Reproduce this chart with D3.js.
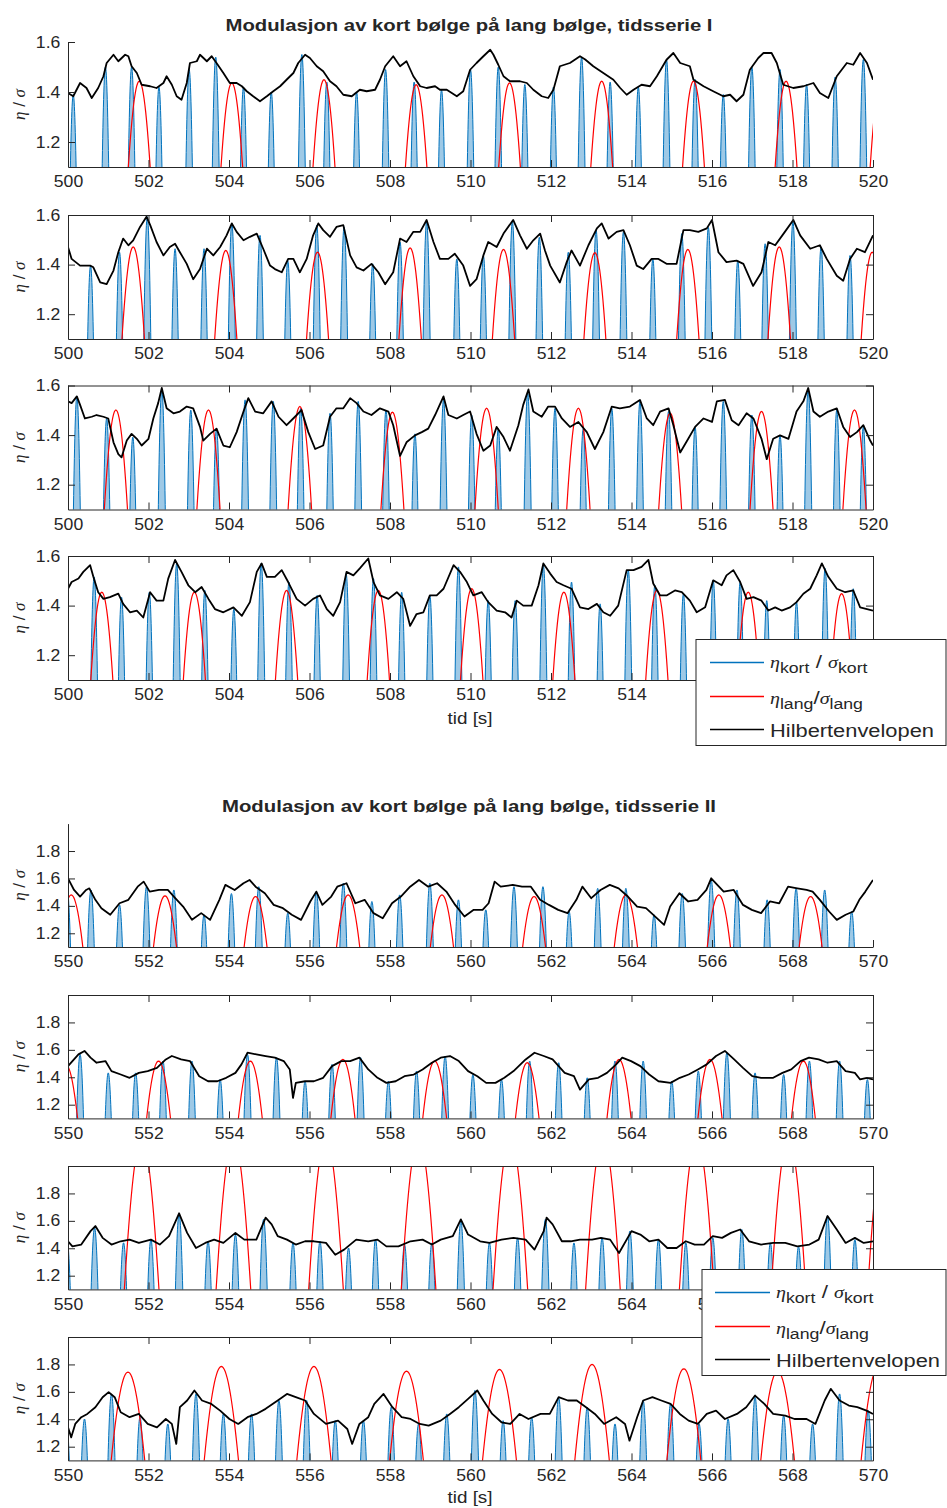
<!DOCTYPE html>
<html>
<head>
<meta charset="utf-8">
<script src="https://cdnjs.cloudflare.com/ajax/libs/d3/7.8.5/d3.min.js"></script>
<style>
  body { margin: 0; background: #fff; }
  svg text { font-family: "Liberation Sans", Arial, sans-serif; fill: #262626; }
</style>
</head>
<body>
<div id="chart"></div>
<script>
// axis settings
var xDomain1 = [500, 520];
var xDomain2 = [550, 570];
var yDomain1 = [1.1, 1.6];
var yDomain2 = [1.1, 2.0];
var xTicks1 = [500, 502, 504, 506, 508, 510, 512, 514, 516, 518, 520];
var xTicks2 = [550, 552, 554, 556, 558, 560, 562, 564, 566, 568, 570];
var yTicks1 = [1.2, 1.4, 1.6];
var yTicks2 = [1.2, 1.4, 1.6, 1.8];

var titles = ["Modulasjon av kort bølge på lang bølge, tidsserie I",
              "Modulasjon av kort bølge på lang bølge, tidsserie II"];
var xLabel = "tid [s]";
var legendNames = ["kort", "lang", "Hilbertenvelopen"];

// short wave crests [time, eta/sigma]
var kort1 = [[500.13,1.39],[500.93,1.50],[501.58,1.50],[502.26,1.42],[503.01,1.49],[503.67,1.54],[504.36,1.42],[505.05,1.40],[505.81,1.55],[506.43,1.44],[507.17,1.40],[507.89,1.49],[508.60,1.44],[509.28,1.41],[510.00,1.49],[510.69,1.50],[511.35,1.43],[512.06,1.42],[512.76,1.54],[513.47,1.44],[514.17,1.42],[514.87,1.53],[515.58,1.45],[516.28,1.39],[516.99,1.50],[517.69,1.49],[518.35,1.43],[519.06,1.46],[519.76,1.53]];
var kort2 = [[500.56,1.396],[501.28,1.45],[501.97,1.593],[502.66,1.464],[503.38,1.464],[504.07,1.566],[504.77,1.518],[505.46,1.416],[506.18,1.559],[506.86,1.552],[507.57,1.403],[508.25,1.491],[508.91,1.573],[509.66,1.423],[510.32,1.437],[511.04,1.573],[511.71,1.51],[512.43,1.45],[513.12,1.54],[513.80,1.532],[514.53,1.423],[515.25,1.525],[515.91,1.55],[516.64,1.416],[517.32,1.484],[518.01,1.573],[518.71,1.471],[519.43,1.437]];
var kort3 = [[500.22,1.556],[500.96,1.467],[501.61,1.392],[502.33,1.584],[503.05,1.501],[503.69,1.426],[504.40,1.542],[505.10,1.536],[505.78,1.508],[506.51,1.488],[507.21,1.536],[507.90,1.501],[508.62,1.405],[509.33,1.542],[510.03,1.481],[510.69,1.426],[511.42,1.57],[512.10,1.508],[512.80,1.426],[513.51,1.508],[514.21,1.536],[514.92,1.495],[515.58,1.433],[516.28,1.536],[516.99,1.481],[517.69,1.399],[518.39,1.584],[519.10,1.501],[519.76,1.433]];
var kort4 = [[499.93,1.45],[500.65,1.516],[501.33,1.434],[502.02,1.454],[502.70,1.57],[503.40,1.461],[504.12,1.386],[504.80,1.57],[505.49,1.495],[506.19,1.441],[506.91,1.529],[507.59,1.509],[508.29,1.454],[508.99,1.441],[509.70,1.556],[510.44,1.420],[511.11,1.42],[511.81,1.563],[512.51,1.495],[513.22,1.407],[513.92,1.543],[514.58,1.482],[515.29,1.448],[516.03,1.502],[516.70,1.495],[517.36,1.420],[518.10,1.414],[518.81,1.55],[519.51,1.468]];
var kort5 = [[549.98,1.52],[550.57,1.516],[551.28,1.407],[551.95,1.54],[552.63,1.516],[553.38,1.335],[554.06,1.49],[554.74,1.54],[555.46,1.347],[556.17,1.504],[556.84,1.565],[557.55,1.432],[558.24,1.48],[558.99,1.565],[559.70,1.444],[560.38,1.371],[561.08,1.54],[561.80,1.54],[562.45,1.359],[563.16,1.528],[563.86,1.528],[564.56,1.335],[565.26,1.49],[565.98,1.589],[566.62,1.516],[567.37,1.444],[568.09,1.528],[568.80,1.516],[569.47,1.359]];
var kort6 = [[550.30,1.567],[551.00,1.432],[551.68,1.432],[552.36,1.518],[553.08,1.518],[553.78,1.384],[554.46,1.567],[555.18,1.543],[555.89,1.371],[556.56,1.494],[557.27,1.543],[557.96,1.371],[558.66,1.445],[559.37,1.555],[560.06,1.420],[560.77,1.384],[561.47,1.518],[562.19,1.506],[562.90,1.396],[563.59,1.518],[564.29,1.518],[565.00,1.371],[565.66,1.445],[566.37,1.579],[567.07,1.432],[567.78,1.420],[568.42,1.518],[569.17,1.518],[569.86,1.384]];
var kort7 = [[549.98,1.45],[550.66,1.55],[551.38,1.44],[552.06,1.463],[552.76,1.648],[553.48,1.451],[554.16,1.50],[554.86,1.611],[555.59,1.439],[556.26,1.451],[556.97,1.402],[557.64,1.463],[558.36,1.427],[559.04,1.439],[559.76,1.60],[560.47,1.439],[561.17,1.476],[561.86,1.611],[562.57,1.439],[563.27,1.476],[563.96,1.525],[564.67,1.463],[565.35,1.439],[566.02,1.476],[566.74,1.537],[567.45,1.439],[568.15,1.414],[568.87,1.635],[569.55,1.463]];
var kort8 = [[549.96,1.40],[550.41,1.402],[551.08,1.585],[551.79,1.415],[552.48,1.366],[553.18,1.585],[553.86,1.439],[554.56,1.439],[555.24,1.537],[555.93,1.537],[556.64,1.390],[557.34,1.39],[558.03,1.488],[558.71,1.366],[559.41,1.439],[560.11,1.61],[560.81,1.39],[561.52,1.415],[562.19,1.561],[562.90,1.488],[563.59,1.366],[564.29,1.537],[564.97,1.512],[565.68,1.366],[566.40,1.402],[567.07,1.561],[567.78,1.427],[568.50,1.366],[569.17,1.585],[569.88,1.463]];

// long wave crests [time, eta/sigma]
var lang1 = [[501.77,1.443],[504.07,1.436],[506.36,1.449],[508.65,1.429],[510.97,1.436],[513.26,1.443],[515.54,1.443],[517.84,1.443],[520.20,1.44]];
var lang2 = [[501.62,1.471],[503.92,1.457],[506.20,1.450],[508.50,1.467],[510.82,1.461],[513.09,1.448],[515.40,1.461],[517.67,1.471],[519.98,1.45]];
var lang3 = [[501.19,1.501],[503.49,1.501],[505.76,1.515],[508.06,1.492],[510.40,1.508],[512.68,1.508],[514.96,1.488],[517.23,1.495],[519.54,1.501]];
var lang4 = [[500.84,1.454],[503.14,1.454],[505.43,1.461],[507.71,1.461],[510.03,1.468],[512.32,1.454],[514.63,1.461],[516.90,1.454],[519.22,1.448]];
var lang5 = [[550.08,1.48],[552.41,1.473],[554.66,1.468],[556.96,1.48],[559.29,1.48],[561.58,1.468],[563.86,1.48],[566.17,1.48],[568.45,1.468]];
var lang6 = [[549.95,1.49],[552.25,1.518],[554.53,1.518],[556.83,1.530],[559.11,1.518],[561.41,1.506],[563.69,1.530],[565.95,1.530],[568.27,1.518]];
var lang7 = [[551.83,2.2],[554.11,2.2],[556.41,2.2],[558.71,2.2],[560.99,2.2],[563.29,2.2],[565.62,2.2],[567.90,2.2],[570.30,2.2]];
var lang8 = [[551.49,1.744],[553.81,1.785],[556.11,1.785],[558.41,1.751],[560.72,1.763],[563.02,1.80],[565.30,1.768],[567.63,1.75],[570.13,1.78]];

// Hilbert envelope [time, eta/sigma]
var env1 = [[500.00,1.396],[500.13,1.383],[500.30,1.436],[500.46,1.416],[500.59,1.376],[500.75,1.416],[500.88,1.463],[500.96,1.516],[501.13,1.549],[501.25,1.523],[501.42,1.549],[501.50,1.543],[501.58,1.503],[501.71,1.476],[501.83,1.429],[502.04,1.423],[502.20,1.416],[502.37,1.436],[502.45,1.463],[502.58,1.429],[502.70,1.383],[502.82,1.369],[502.95,1.436],[503.03,1.516],[503.20,1.523],[503.28,1.549],[503.45,1.523],[503.57,1.543],[503.69,1.516],[503.86,1.476],[504.02,1.436],[504.19,1.436],[504.32,1.423],[504.44,1.403],[504.60,1.383],[504.77,1.363],[504.94,1.383],[505.10,1.403],[505.27,1.423],[505.43,1.449],[505.60,1.476],[505.72,1.516],[505.89,1.549],[506.01,1.536],[506.18,1.503],[506.34,1.483],[506.51,1.443],[506.67,1.423],[506.84,1.389],[507.05,1.383],[507.25,1.409],[507.42,1.403],[507.63,1.409],[507.75,1.449],[507.88,1.503],[508.08,1.543],[508.25,1.503],[508.41,1.523],[508.58,1.463],[508.75,1.423],[508.91,1.416],[509.12,1.423],[509.24,1.409],[509.41,1.409],[509.66,1.383],[509.82,1.403],[509.99,1.489],[510.15,1.516],[510.32,1.543],[510.49,1.569],[510.57,1.549],[510.69,1.509],[510.82,1.463],[510.98,1.443],[511.23,1.443],[511.40,1.436],[511.56,1.409],[511.77,1.383],[511.93,1.376],[512.06,1.409],[512.22,1.503],[512.47,1.516],[512.72,1.543],[512.85,1.530],[513.05,1.503],[513.30,1.476],[513.55,1.449],[513.72,1.416],[513.88,1.389],[514.05,1.409],[514.25,1.429],[514.46,1.423],[514.63,1.463],[514.87,1.529],[515.04,1.556],[515.21,1.516],[515.45,1.503],[515.54,1.449],[515.79,1.423],[516.03,1.403],[516.28,1.383],[516.45,1.389],[516.61,1.363],[516.78,1.389],[516.94,1.489],[517.15,1.536],[517.28,1.556],[517.48,1.556],[517.61,1.516],[517.77,1.429],[518.02,1.416],[518.27,1.423],[518.52,1.436],[518.68,1.396],[518.89,1.376],[519.10,1.463],[519.35,1.516],[519.51,1.509],[519.68,1.556],[519.85,1.516],[520.00,1.449]];
var env2 = [[500.00,1.471],[500.09,1.423],[500.30,1.396],[500.55,1.396],[500.63,1.389],[500.80,1.328],[500.96,1.321],[501.13,1.376],[501.25,1.450],[501.37,1.505],[501.50,1.478],[501.62,1.498],[501.79,1.552],[501.95,1.593],[502.04,1.560],[502.20,1.491],[502.37,1.437],[502.53,1.471],[502.66,1.484],[502.78,1.450],[502.95,1.403],[503.11,1.341],[503.28,1.382],[503.45,1.464],[503.61,1.437],[503.78,1.471],[503.94,1.518],[504.07,1.566],[504.19,1.532],[504.36,1.498],[504.52,1.512],[504.69,1.525],[504.85,1.464],[505.02,1.396],[505.14,1.382],[505.31,1.369],[505.47,1.423],[505.60,1.423],[505.76,1.369],[505.93,1.423],[506.09,1.518],[506.22,1.566],[506.34,1.539],[506.51,1.512],[506.67,1.552],[506.84,1.559],[507.01,1.437],[507.17,1.389],[507.34,1.376],[507.54,1.403],[507.71,1.369],[507.88,1.321],[508.08,1.369],[508.25,1.505],[508.41,1.491],[508.58,1.532],[508.75,1.532],[508.91,1.580],[509.08,1.491],[509.24,1.423],[509.45,1.423],[509.61,1.444],[509.82,1.396],[509.99,1.314],[510.15,1.341],[510.32,1.437],[510.44,1.491],[510.65,1.471],[510.82,1.525],[511.06,1.580],[511.23,1.518],[511.40,1.464],[511.56,1.498],[511.73,1.525],[511.85,1.457],[511.98,1.396],[512.22,1.328],[512.39,1.410],[512.51,1.457],[512.72,1.396],[512.93,1.478],[513.14,1.546],[513.26,1.566],[513.43,1.505],[513.63,1.532],[513.80,1.539],[513.96,1.478],[514.13,1.396],[514.29,1.382],[514.50,1.423],[514.67,1.423],[514.87,1.403],[515.12,1.403],[515.29,1.539],[515.45,1.539],[515.66,1.532],[515.87,1.546],[516.00,1.580],[516.16,1.450],[516.36,1.410],[516.61,1.416],[516.78,1.403],[517.02,1.314],[517.23,1.369],[517.40,1.491],[517.57,1.478],[517.81,1.532],[518.02,1.580],[518.19,1.518],[518.44,1.464],[518.68,1.478],[518.85,1.423],[519.10,1.355],[519.26,1.335],[519.43,1.423],[519.60,1.464],[519.80,1.450],[520.00,1.518]];
var env3 = [[500.00,1.536],[500.09,1.529],[500.22,1.556],[500.30,1.522],[500.42,1.467],[500.59,1.474],[500.71,1.481],[500.88,1.474],[501.00,1.467],[501.13,1.371],[501.25,1.323],[501.33,1.310],[501.46,1.378],[501.58,1.405],[501.71,1.385],[501.83,1.358],[502.00,1.385],[502.12,1.467],[502.24,1.529],[502.33,1.590],[502.45,1.508],[502.62,1.488],[502.78,1.495],[502.95,1.515],[503.11,1.508],[503.28,1.433],[503.36,1.378],[503.53,1.405],[503.69,1.426],[503.86,1.358],[504.02,1.351],[504.19,1.412],[504.36,1.495],[504.48,1.549],[504.65,1.495],[504.85,1.488],[505.06,1.536],[505.23,1.474],[505.43,1.440],[505.64,1.474],[505.80,1.501],[505.97,1.412],[506.14,1.344],[506.34,1.358],[506.51,1.474],[506.67,1.508],[506.84,1.508],[507.01,1.549],[507.17,1.529],[507.34,1.495],[507.54,1.481],[507.75,1.508],[507.96,1.495],[508.08,1.440],[508.25,1.316],[508.41,1.371],[508.62,1.399],[508.79,1.412],[508.95,1.426],[509.12,1.481],[509.33,1.556],[509.45,1.481],[509.66,1.467],[509.82,1.481],[509.99,1.495],[510.15,1.405],[510.32,1.337],[510.49,1.358],[510.65,1.433],[510.82,1.392],[510.98,1.337],[511.19,1.440],[511.31,1.522],[511.44,1.584],[511.56,1.495],[511.77,1.474],[511.93,1.515],[512.10,1.515],[512.27,1.467],[512.47,1.433],[512.68,1.453],[512.89,1.412],[513.09,1.344],[513.30,1.412],[513.51,1.515],[513.71,1.508],[513.96,1.515],[514.21,1.542],[514.38,1.467],[514.54,1.440],[514.71,1.495],[514.92,1.508],[515.04,1.440],[515.21,1.330],[515.41,1.385],[515.58,1.433],[515.79,1.467],[516.00,1.453],[516.12,1.536],[516.32,1.542],[516.49,1.460],[516.66,1.440],[516.86,1.488],[517.03,1.467],[517.23,1.385],[517.36,1.303],[517.52,1.385],[517.69,1.399],[517.90,1.385],[518.10,1.495],[518.27,1.536],[518.39,1.590],[518.52,1.495],[518.68,1.474],[518.89,1.495],[519.10,1.508],[519.26,1.433],[519.43,1.392],[519.60,1.412],[519.76,1.440],[519.93,1.378],[520.00,1.358]];
var env4 = [[500.00,1.468],[500.09,1.495],[500.26,1.509],[500.38,1.536],[500.55,1.563],[500.63,1.516],[500.75,1.454],[500.88,1.427],[501.04,1.434],[501.25,1.448],[501.37,1.407],[501.54,1.373],[501.71,1.380],[501.87,1.352],[502.04,1.454],[502.20,1.420],[502.37,1.420],[502.49,1.509],[502.66,1.584],[502.82,1.536],[502.99,1.482],[503.16,1.454],[503.32,1.475],[503.49,1.427],[503.65,1.386],[503.86,1.373],[504.11,1.393],[504.32,1.359],[504.52,1.414],[504.69,1.536],[504.81,1.570],[504.94,1.516],[505.14,1.516],[505.31,1.543],[505.47,1.495],[505.68,1.427],[505.89,1.400],[506.09,1.427],[506.26,1.441],[506.43,1.386],[506.59,1.359],[506.76,1.414],[506.92,1.536],[507.09,1.522],[507.25,1.550],[507.46,1.590],[507.59,1.495],[507.75,1.441],[507.96,1.427],[508.17,1.454],[508.33,1.427],[508.50,1.318],[508.66,1.366],[508.83,1.373],[508.99,1.441],[509.16,1.441],[509.33,1.468],[509.58,1.563],[509.74,1.536],[509.91,1.495],[510.07,1.441],[510.28,1.454],[510.44,1.414],[510.65,1.380],[510.86,1.373],[511.02,1.352],[511.15,1.420],[511.31,1.400],[511.52,1.400],[511.69,1.482],[511.81,1.570],[511.98,1.529],[512.14,1.495],[512.31,1.482],[512.51,1.468],[512.72,1.393],[512.93,1.386],[513.14,1.407],[513.30,1.373],[513.47,1.359],[513.67,1.400],[513.88,1.543],[514.05,1.543],[514.25,1.556],[514.42,1.584],[514.54,1.489],[514.71,1.441],[514.87,1.441],[515.08,1.461],[515.25,1.454],[515.45,1.420],[515.62,1.373],[515.83,1.393],[516.03,1.502],[516.24,1.482],[516.36,1.522],[516.53,1.543],[516.70,1.495],[516.86,1.427],[517.03,1.434],[517.23,1.420],[517.40,1.380],[517.57,1.393],[517.73,1.380],[517.94,1.393],[518.10,1.414],[518.27,1.448],[518.44,1.468],[518.60,1.522],[518.73,1.570],[518.89,1.516],[519.10,1.468],[519.31,1.454],[519.51,1.461],[519.68,1.393],[520.00,1.380]];
var env5 = [[550.00,1.601],[550.15,1.516],[550.30,1.468],[550.45,1.516],[550.53,1.528],[550.68,1.444],[550.83,1.383],[551.05,1.335],[551.28,1.419],[551.50,1.444],[551.73,1.540],[551.88,1.577],[552.03,1.504],[552.26,1.516],[552.48,1.516],[552.63,1.468],[552.86,1.395],[553.08,1.298],[553.31,1.347],[553.53,1.298],[553.76,1.444],[553.91,1.553],[554.14,1.516],[554.36,1.565],[554.51,1.589],[554.66,1.540],[554.89,1.492],[555.11,1.407],[555.34,1.383],[555.56,1.335],[555.79,1.298],[556.02,1.432],[556.17,1.504],[556.32,1.407],[556.54,1.468],[556.69,1.540],[556.92,1.565],[557.14,1.419],[557.37,1.444],[557.59,1.347],[557.82,1.310],[558.05,1.419],[558.27,1.468],[558.50,1.540],[558.72,1.589],[558.95,1.540],[559.17,1.565],[559.40,1.504],[559.62,1.407],[559.85,1.322],[560.08,1.371],[560.30,1.371],[560.45,1.419],[560.60,1.577],[560.75,1.540],[561.05,1.553],[561.28,1.540],[561.50,1.540],[561.73,1.444],[561.95,1.407],[562.18,1.371],[562.41,1.347],[562.63,1.444],[562.78,1.540],[563.00,1.456],[563.23,1.516],[563.46,1.553],[563.68,1.528],[563.91,1.468],[564.14,1.395],[564.36,1.383],[564.59,1.322],[564.81,1.262],[564.96,1.395],[565.19,1.492],[565.41,1.432],[565.64,1.444],[565.86,1.516],[565.98,1.601],[566.29,1.504],[566.54,1.516],[566.77,1.407],[566.99,1.371],[567.22,1.347],[567.44,1.432],[567.67,1.419],[567.89,1.540],[568.12,1.528],[568.35,1.516],[568.50,1.504],[568.68,1.444],[568.91,1.359],[569.10,1.298],[569.32,1.335],[569.51,1.359],[569.66,1.444],[569.81,1.504],[570.00,1.589]];
var env6 = [[550.00,1.481],[550.11,1.518],[550.26,1.567],[550.41,1.592],[550.56,1.543],[550.71,1.506],[550.93,1.518],[551.08,1.445],[551.31,1.420],[551.53,1.396],[551.76,1.432],[551.98,1.445],[552.21,1.469],[552.43,1.530],[552.58,1.555],[552.81,1.530],[553.03,1.518],[553.26,1.408],[553.48,1.371],[553.71,1.371],[553.93,1.396],[554.16,1.432],[554.31,1.494],[554.46,1.579],[554.68,1.567],[554.91,1.555],[555.14,1.543],[555.36,1.518],[555.51,1.457],[555.59,1.249],[555.66,1.359],[555.89,1.371],[556.11,1.371],[556.34,1.396],[556.56,1.481],[556.79,1.518],[557.01,1.518],[557.24,1.543],[557.46,1.457],[557.69,1.396],[557.91,1.359],[558.14,1.371],[558.36,1.408],[558.59,1.420],[558.81,1.457],[559.04,1.506],[559.26,1.543],[559.49,1.555],[559.71,1.518],[559.94,1.445],[560.17,1.408],[560.39,1.359],[560.62,1.359],[560.84,1.396],[561.07,1.445],[561.37,1.530],[561.59,1.579],[561.82,1.555],[562.04,1.530],[562.34,1.432],[562.57,1.408],[562.72,1.310],[562.94,1.384],[563.17,1.396],[563.39,1.432],[563.62,1.494],[563.77,1.543],[563.99,1.518],[564.22,1.481],[564.44,1.420],[564.67,1.371],[564.97,1.359],[565.20,1.396],[565.42,1.420],[565.65,1.457],[565.87,1.494],[566.10,1.555],[566.32,1.592],[566.55,1.530],[566.77,1.469],[567.00,1.408],[567.22,1.396],[567.52,1.396],[567.75,1.432],[567.97,1.457],[568.20,1.518],[568.41,1.543],[568.65,1.530],[568.87,1.506],[569.10,1.518],[569.32,1.445],[569.55,1.432],[569.68,1.384],[569.85,1.396],[570.00,1.384]];
var env7 = [[550.00,1.451],[550.11,1.414],[550.33,1.427],[550.56,1.525],[550.68,1.562],[550.86,1.476],[551.08,1.427],[551.31,1.451],[551.53,1.463],[551.76,1.439],[552.06,1.463],[552.28,1.427],[552.51,1.488],[552.76,1.655],[552.96,1.512],[553.18,1.402],[553.41,1.439],[553.63,1.463],[553.86,1.439],[554.16,1.512],[554.38,1.463],[554.68,1.463],[554.91,1.623],[555.06,1.574],[555.21,1.488],[555.44,1.463],[555.66,1.427],[555.89,1.451],[556.11,1.451],[556.41,1.439],[556.64,1.353],[556.86,1.390],[557.16,1.463],[557.46,1.451],[557.69,1.463],[557.91,1.414],[558.21,1.414],[558.51,1.451],[558.81,1.463],[559.04,1.427],[559.26,1.463],[559.56,1.488],[559.76,1.611],[559.94,1.500],[560.24,1.451],[560.47,1.439],[560.77,1.463],[561.07,1.476],[561.37,1.463],[561.59,1.390],[561.82,1.525],[561.89,1.623],[562.04,1.574],[562.27,1.451],[562.49,1.451],[562.72,1.463],[563.02,1.463],[563.24,1.476],[563.47,1.463],[563.69,1.365],[564.00,1.525],[564.22,1.500],[564.44,1.451],[564.67,1.463],[564.89,1.402],[565.12,1.402],[565.35,1.451],[565.57,1.427],[565.80,1.427],[566.02,1.488],[566.25,1.476],[566.47,1.512],[566.70,1.537],[566.92,1.451],[567.22,1.427],[567.52,1.439],[567.82,1.439],[568.12,1.414],[568.42,1.427],[568.65,1.463],[568.87,1.635],[569.10,1.537],[569.32,1.439],[569.55,1.476],[569.77,1.439],[570.00,1.451]];
var env8 = [[550.00,1.341],[550.08,1.268],[550.18,1.366],[550.33,1.415],[550.48,1.439],[550.68,1.488],[550.86,1.561],[551.01,1.598],[551.16,1.561],[551.31,1.451],[551.53,1.415],[551.76,1.439],[551.98,1.366],[552.21,1.341],[552.43,1.402],[552.58,1.366],[552.69,1.220],[552.78,1.488],[552.96,1.537],[553.14,1.610],[553.33,1.537],[553.56,1.512],[553.78,1.463],[554.01,1.402],[554.23,1.366],[554.46,1.415],[554.68,1.439],[554.91,1.476],[555.21,1.537],[555.44,1.585],[555.66,1.561],[555.89,1.537],[556.11,1.439],[556.41,1.366],[556.71,1.390],[556.94,1.329],[557.06,1.220],[557.24,1.366],[557.46,1.415],[557.61,1.512],[557.84,1.585],[558.06,1.488],[558.29,1.415],[558.51,1.402],[558.74,1.366],[558.96,1.354],[559.26,1.390],[559.49,1.439],[559.71,1.488],[559.94,1.549],[560.17,1.610],[560.32,1.537],[560.54,1.439],[560.77,1.378],[560.99,1.366],[561.22,1.439],[561.44,1.402],[561.74,1.439],[561.97,1.439],[562.19,1.561],[562.42,1.537],[562.64,1.537],[562.87,1.488],[563.09,1.439],[563.32,1.366],[563.62,1.415],[563.84,1.366],[563.95,1.244],[564.14,1.415],[564.29,1.537],[564.52,1.561],[564.74,1.537],[564.97,1.512],[565.20,1.439],[565.42,1.390],[565.65,1.366],[565.87,1.439],[566.10,1.463],[566.32,1.402],[566.62,1.439],[566.85,1.488],[567.07,1.573],[567.30,1.512],[567.52,1.439],[567.82,1.427],[568.05,1.402],[568.35,1.402],[568.57,1.366],[568.80,1.537],[568.95,1.622],[569.17,1.537],[569.40,1.500],[569.61,1.488],[569.84,1.463],[570.00,1.439]];

// layout
var svgWidth = 947;
var svgHeight = 1508;
var plotLeft = 68, plotRight = 873;
var kortColor = "#0072BD", langColor = "#FF0000", envColor = "#000000", axisColor = "#262626";
var kortPeriod = 0.68;

var panels = [
  {env: env1, kort: kort1, lang: lang1, xd: xDomain1, yd: yDomain1, xt: xTicks1, yt: yTicks1, top: 42,  h: 125, box: false, langPeriod: 2.42, hideLabels: []},
  {env: env2, kort: kort2, lang: lang2, xd: xDomain1, yd: yDomain1, xt: xTicks1, yt: yTicks1, top: 215, h: 124, box: true,  langPeriod: 2.42, hideLabels: []},
  {env: env3, kort: kort3, lang: lang3, xd: xDomain1, yd: yDomain1, xt: xTicks1, yt: yTicks1, top: 385.5, h: 124, box: true, langPeriod: 2.42, hideLabels: []},
  {env: env4, kort: kort4, lang: lang4, xd: xDomain1, yd: yDomain1, xt: xTicks1, yt: yTicks1, top: 556, h: 124, box: true,  langPeriod: 2.42, hideLabels: [516, 518, 520]},
  {env: env5, kort: kort5, lang: lang5, xd: xDomain2, yd: yDomain2, xt: xTicks2, yt: yTicks2, top: 823.6, h: 123.4, box: false, langPeriod: 2.47, hideLabels: []},
  {env: env6, kort: kort6, lang: lang6, xd: xDomain2, yd: yDomain2, xt: xTicks2, yt: yTicks2, top: 995, h: 123.4, box: true, langPeriod: 2.45, hideLabels: []},
  {env: env7, kort: kort7, lang: lang7, xd: xDomain2, yd: yDomain2, xt: xTicks2, yt: yTicks2, top: 1166, h: 123.4, box: true, langPeriod: 2.58, hideLabels: [568, 570]},
  {env: env8, kort: kort8, lang: lang8, xd: xDomain2, yd: yDomain2, xt: xTicks2, yt: yTicks2, top: 1337, h: 123.4, box: true, langPeriod: 2.95, hideLabels: []}
];

var svg = d3.select("#chart")
  .append("svg")
  .attr("width", svgWidth)
  .attr("height", svgHeight);

// crest outline of one wave around t0
function crest(t0, h, period) {
  return d3.range(0, 61).map(function(i) {
    var t = t0 - period / 4 + i * period / 120;
    return [t, h * Math.cos(2 * Math.PI * (t - t0) / period)];
  });
}

panels.forEach(function(p, i) {
  var bottom = p.top + p.h;
  var x = d3.scaleLinear().domain(p.xd).range([plotLeft, plotRight]);
  var y = d3.scaleLinear().domain(p.yd).range([bottom, p.top]);
  var line = d3.line().x(d => x(d[0])).y(d => y(d[1]));

  svg.append("clipPath")
    .attr("id", "clip" + i)
    .append("rect")
    .attr("x", plotLeft)
    .attr("y", p.top)
    .attr("width", plotRight - plotLeft)
    .attr("height", p.h);

  var plot = svg.append("g").attr("clip-path", "url(#clip" + i + ")");

  // short wave
  plot.selectAll(".kort")
    .data(p.kort)
    .enter()
    .append("path")
    .attr("d", d => line(crest(d[0], d[1], kortPeriod)) + "Z")
    .attr("fill", kortColor)
    .attr("fill-opacity", 0.38)
    .attr("stroke", kortColor)
    .attr("stroke-width", 1);

  // long wave
  plot.selectAll(".lang")
    .data(p.lang)
    .enter()
    .append("path")
    .attr("d", d => line(crest(d[0], d[1], p.langPeriod)))
    .attr("fill", "none")
    .attr("stroke", langColor)
    .attr("stroke-width", 1.2);

  // envelope
  plot.append("path")
    .datum(p.env)
    .attr("d", line)
    .attr("fill", "none")
    .attr("stroke", envColor)
    .attr("stroke-width", 1.8)
    .attr("stroke-linejoin", "round");

  // axes
  var xAxis = svg.append("g")
    .attr("transform", `translate(0, ${bottom})`)
    .attr("color", axisColor)
    .call(d3.axisBottom(x).tickValues(p.xt).tickFormat(d3.format("d"))
      .tickSizeInner(-7).tickSizeOuter(0).tickPadding(9));
  xAxis.selectAll("text")
    .attr("font-size", 16)
    .attr("font-family", "Liberation Sans, Arial, sans-serif")
    .attr("fill", axisColor)
    .attr("transform", "scale(1.1,1)");
  // labels that sit under the legend box
  xAxis.selectAll(".tick")
    .filter(d => p.hideLabels.indexOf(d) >= 0)
    .select("text")
    .remove();

  var yAxis = svg.append("g")
    .attr("transform", `translate(${plotLeft}, 0)`)
    .attr("color", axisColor)
    .call(d3.axisLeft(y).tickValues(p.yt).tickFormat(d3.format(".1f"))
      .tickSizeInner(-7).tickSizeOuter(0).tickPadding(7));
  yAxis.selectAll("text")
    .attr("font-size", 16)
    .attr("font-family", "Liberation Sans, Arial, sans-serif")
    .attr("fill", axisColor)
    .attr("transform", "scale(1.1,1)");

  if (p.box) {
    svg.append("g")
      .attr("transform", `translate(0, ${p.top})`)
      .attr("color", axisColor)
      .call(d3.axisTop(x).tickValues(p.xt).tickFormat("").tickSizeInner(-7).tickSizeOuter(0));
    svg.append("g")
      .attr("transform", `translate(${plotRight}, 0)`)
      .attr("color", axisColor)
      .call(d3.axisRight(y).tickValues(p.yt).tickFormat("").tickSizeInner(-7).tickSizeOuter(0));
  }

  // y label
  var yl = svg.append("text")
    .attr("transform", `translate(25, ${p.top + p.h / 2}) rotate(-90)`)
    .attr("text-anchor", "middle")
    .attr("font-size", 17)
    .attr("fill", "#404040");
  yl.append("tspan").attr("font-family", "Liberation Serif, serif").attr("font-style", "italic").text("η");
  yl.append("tspan").text(" / ");
  yl.append("tspan").attr("font-family", "Liberation Serif, serif").attr("font-style", "italic").text("σ");
});

// titles and x labels
[[titles[0], 31, 487], [titles[1], 812, 494]].forEach(function(t) {
  svg.append("text")
    .attr("x", 469)
    .attr("y", t[1])
    .attr("text-anchor", "middle")
    .attr("font-size", 16)
    .attr("font-weight", "bold")
    .attr("fill", "#000")
    .attr("textLength", t[2])
    .attr("lengthAdjust", "spacingAndGlyphs")
    .text(t[0]);
});

[724, 1503].forEach(function(yy) {
  svg.append("text")
    .attr("transform", `translate(470, ${yy}) scale(1.18,1)`)
    .attr("text-anchor", "middle")
    .attr("font-size", 16)
    .text(xLabel);
});

// legends
function drawLegend(bx, by, lineX0, lineX1, textX) {
  var g = svg.append("g");
  g.append("rect")
    .attr("x", bx)
    .attr("y", by)
    .attr("width", 946 - bx)
    .attr("height", 106)
    .attr("fill", "#fff")
    .attr("stroke", axisColor)
    .attr("stroke-width", 1);

  var rows = [[kortColor, 23], [langColor, 57], [envColor, 90]];
  rows.forEach(function(r) {
    g.append("line")
      .attr("x1", lineX0).attr("x2", lineX1)
      .attr("y1", by + r[1]).attr("y2", by + r[1])
      .attr("stroke", r[0])
      .attr("stroke-width", 1.5);
  });

  // eta/sigma entries
  [[legendNames[0], 28, " / "], [legendNames[1], 64, "/"]].forEach(function(e) {
    var t = g.append("text")
      .attr("transform", `translate(${textX}, ${by + e[1]}) scale(1.18,1)`)
      .attr("font-size", 19);
    t.append("tspan").attr("font-family", "Liberation Serif, serif").attr("font-style", "italic").attr("font-size", 17).text("η");
    t.append("tspan").attr("font-size", 15).attr("dy", 5).text(e[0]);
    t.append("tspan").attr("dy", -5).text(e[2]);
    t.append("tspan").attr("font-family", "Liberation Serif, serif").attr("font-style", "italic").attr("font-size", 17).text("σ");
    t.append("tspan").attr("font-size", 15).attr("dy", 5).text(e[0]);
  });

  g.append("text")
    .attr("transform", `translate(${textX}, ${by + 97}) scale(1.15,1)`)
    .attr("font-size", 19)
    .text(legendNames[2]);
}

drawLegend(696, 639.5, 710, 764, 770);
drawLegend(702, 1269.5, 715, 770, 776);
</script>
</body>
</html>
